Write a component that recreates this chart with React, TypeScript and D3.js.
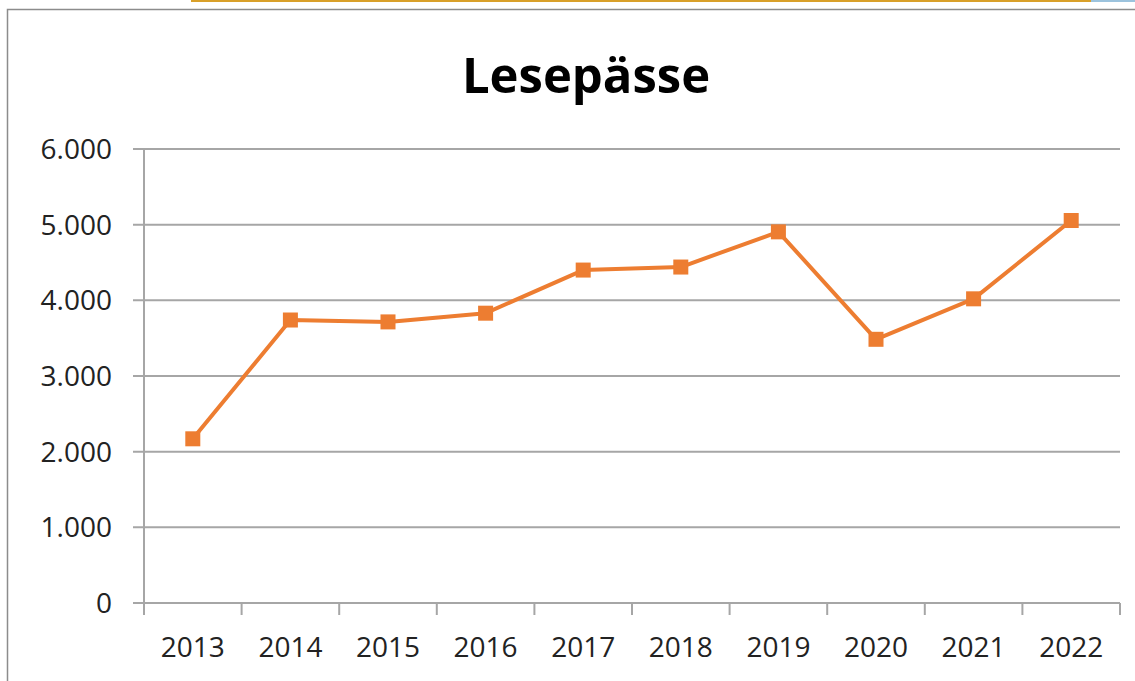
import React from "react";
import * as d3 from "d3";

const categories = ["2013", "2014", "2015", "2016", "2017", "2018", "2019", "2020", "2021", "2022"];
const values = [2170, 3740, 3715, 3830, 4400, 4440, 4905, 3485, 4020, 5055];
const yTicks = [0, 1000, 2000, 3000, 4000, 5000, 6000];
const title = "Lesepässe";

const W = 1135;
const H = 681;
const font = "'Open Sans', 'Liberation Sans', sans-serif";

export default function App() {
  const left = 144, right = 1120, top = 149, bottom = 603;
  const x = d3.scaleBand<string>().domain(categories).range([left, right]);
  const y = d3.scaleLinear().domain([0, 6000]).range([bottom, top]);
  const fmt = (v: number) => (v === 0 ? "0" : d3.format(",")(v).replace(/,/g, "."));
  const line = d3
    .line<number>()
    .x((_, i) => (x(categories[i]) as number) + x.bandwidth() / 2)
    .y((d) => y(d));
  const tickXs = categories.map((c) => x(c) as number).concat([right]);
  return (
    <div style={{ position: "absolute", left: 0, top: 0 }}>
      <svg width={W} height={H} style={{ display: "block", background: "#fff" }}>
        <rect x={191} y={0} width={900} height={2} fill="#d9a02a" />
        <rect x={1091} y={0} width={44} height={2} fill="#9cc3dd" />
        <path d={`M7.5,${H} V9.5 H${W}`} fill="none" stroke="#8c8c8c" strokeWidth={1.5} />
        <text x={586} y={93} textAnchor="middle" fontFamily={font} fontWeight="bold" fontSize={49} fill="#000">
          {title}
        </text>
        {yTicks.map((t) => (
          <g key={t}>
            <line x1={133} x2={right} y1={y(t)} y2={y(t)} stroke="#a6a6a6" strokeWidth={2} />
            <text x={112} y={y(t) + 10} textAnchor="end" fontFamily={font} fontSize={28} fill="#222">
              {fmt(t)}
            </text>
          </g>
        ))}
        <line x1={left} x2={left} y1={top} y2={bottom} stroke="#a6a6a6" strokeWidth={2} />
        {tickXs.map((tx, i) => (
          <line key={i} x1={tx} x2={tx} y1={bottom} y2={bottom + 12} stroke="#a6a6a6" strokeWidth={2} />
        ))}
        {categories.map((c) => (
          <text
            key={c}
            x={(x(c) as number) + x.bandwidth() / 2}
            y={657}
            textAnchor="middle"
            fontFamily={font}
            fontSize={28}
            fill="#222"
          >
            {c}
          </text>
        ))}
        <path d={line(values) || ""} fill="none" stroke="#ED7D31" strokeWidth={4} strokeLinejoin="round" />
        {values.map((v, i) => (
          <rect
            key={i}
            x={(x(categories[i]) as number) + x.bandwidth() / 2 - 7.5}
            y={y(v) - 7.5}
            width={15}
            height={15}
            fill="#ED7D31"
          />
        ))}
      </svg>
    </div>
  );
}
